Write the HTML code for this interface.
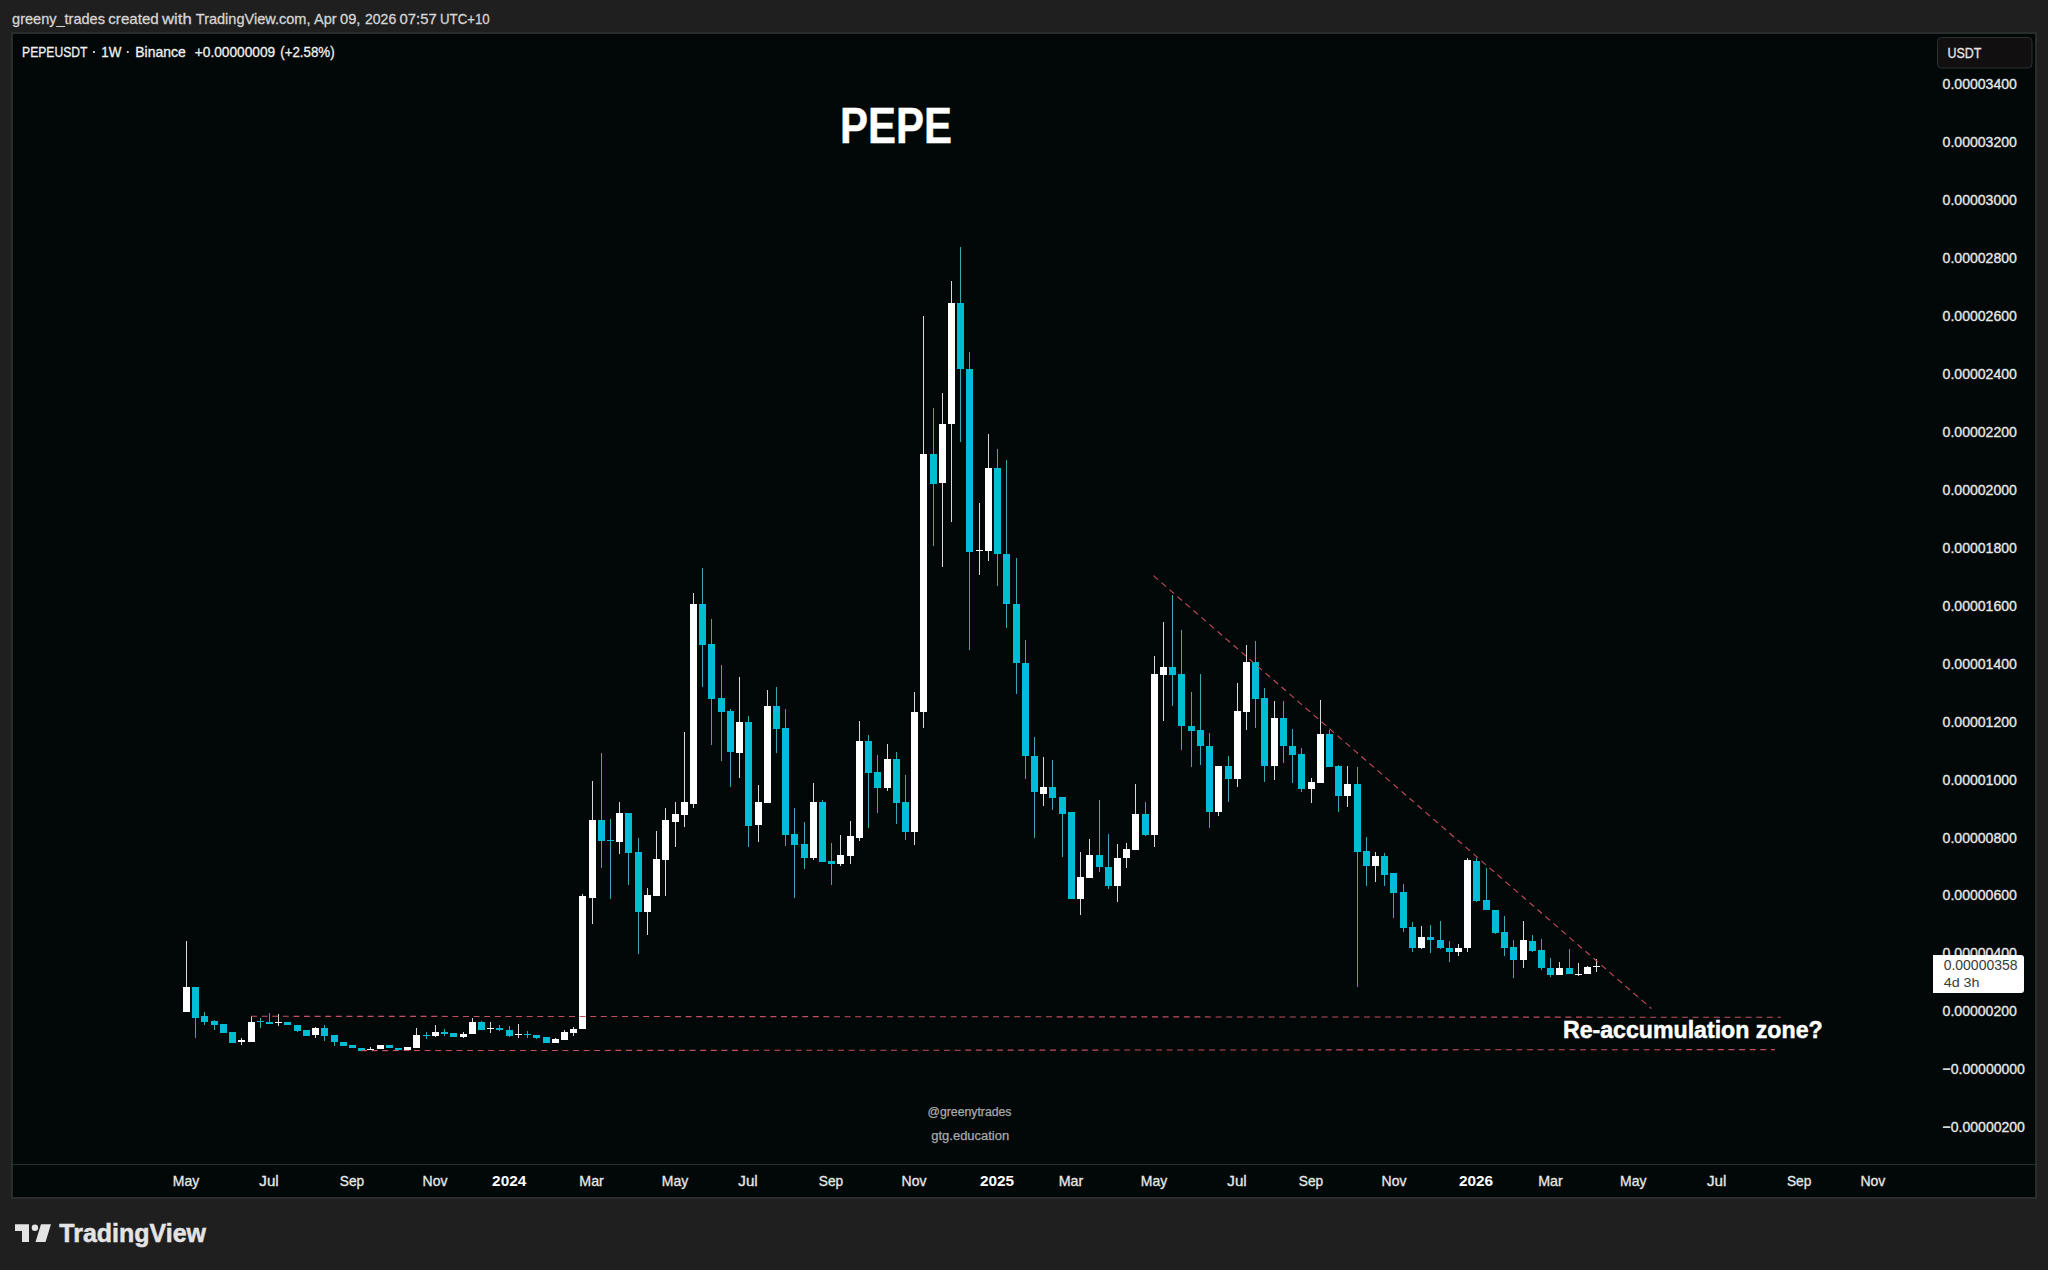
<!DOCTYPE html>
<html><head><meta charset="utf-8">
<style>
html,body{margin:0;padding:0;background:#201f1f;width:2048px;height:1270px;overflow:hidden}
svg{display:block}
text{font-family:"Liberation Sans",sans-serif}
</style></head>
<body>
<svg width="2048" height="1270" viewBox="0 0 2048 1270">
<rect x="0" y="0" width="2048" height="1270" fill="#201f1f"/>
<rect x="11" y="32" width="2026" height="1167" fill="#292d2c"/>
<rect x="13" y="34" width="2022" height="1163" fill="#020807"/>
<rect x="13" y="1164" width="2022" height="1" fill="#263030"/>
<text x="840.00" y="142.5" font-size="50" font-weight="bold" fill="#ffffff" stroke="#ffffff" stroke-width="0.4" textLength="112.00" lengthAdjust="spacingAndGlyphs">PEPE</text>
<rect x="1937.5" y="37.5" width="94.5" height="30.5" rx="4" fill="#110f0f" stroke="#2b3131" stroke-width="1"/>
<text x="1947.55" y="58" font-size="15" fill="#e6e6e6" stroke="#e6e6e6" stroke-width="0.3" textLength="33.90" lengthAdjust="spacingAndGlyphs">USDT</text>
<text x="12.05" y="23.75" font-size="14.5" fill="#d4d4d4" stroke="#d4d4d4" stroke-width="0.3" textLength="92.90" lengthAdjust="spacingAndGlyphs">greeny_trades</text><text x="108.30" y="23.75" font-size="14.5" fill="#d4d4d4" stroke="#d4d4d4" stroke-width="0.3" textLength="50.40" lengthAdjust="spacingAndGlyphs">created</text><text x="162.05" y="23.75" font-size="14.5" fill="#d4d4d4" stroke="#d4d4d4" stroke-width="0.3" textLength="29.65" lengthAdjust="spacingAndGlyphs">with</text><text x="195.80" y="23.75" font-size="14.5" fill="#d4d4d4" stroke="#d4d4d4" stroke-width="0.3" textLength="114.65" lengthAdjust="spacingAndGlyphs">TradingView.com,</text><text x="314.05" y="23.75" font-size="14.5" fill="#d4d4d4" stroke="#d4d4d4" stroke-width="0.3" textLength="22.65" lengthAdjust="spacingAndGlyphs">Apr</text><text x="340.05" y="23.75" font-size="14.5" fill="#d4d4d4" stroke="#d4d4d4" stroke-width="0.3" textLength="20.40" lengthAdjust="spacingAndGlyphs">09,</text><text x="365.05" y="23.75" font-size="14.5" fill="#d4d4d4" stroke="#d4d4d4" stroke-width="0.3" textLength="31.15" lengthAdjust="spacingAndGlyphs">2026</text><text x="399.55" y="23.75" font-size="14.5" fill="#d4d4d4" stroke="#d4d4d4" stroke-width="0.3" textLength="37.15" lengthAdjust="spacingAndGlyphs">07:57</text><text x="440.05" y="23.75" font-size="14.5" fill="#d4d4d4" stroke="#d4d4d4" stroke-width="0.3" textLength="49.65" lengthAdjust="spacingAndGlyphs">UTC+10</text><text x="22.05" y="56.8" font-size="15.2" fill="#f0f0f0" stroke="#f0f0f0" stroke-width="0.3" textLength="65.40" lengthAdjust="spacingAndGlyphs">PEPEUSDT</text><text x="101.35" y="56.8" font-size="15.2" fill="#f0f0f0" stroke="#f0f0f0" stroke-width="0.3" textLength="20.00" lengthAdjust="spacingAndGlyphs">1W</text><text x="135.25" y="56.8" font-size="15.2" fill="#f0f0f0" stroke="#f0f0f0" stroke-width="0.3" textLength="50.50" lengthAdjust="spacingAndGlyphs">Binance</text><text x="194.75" y="56.8" font-size="15.2" fill="#f0f0f0" stroke="#f0f0f0" stroke-width="0.3" textLength="80.50" lengthAdjust="spacingAndGlyphs">+0.00000009</text><text x="280.25" y="56.8" font-size="15.2" fill="#f0f0f0" stroke="#f0f0f0" stroke-width="0.3" textLength="54.40" lengthAdjust="spacingAndGlyphs">(+2.58%)</text><circle cx="94" cy="52" r="1.1" fill="#f0f0f0"/><circle cx="127.8" cy="52" r="1.1" fill="#f0f0f0"/><text x="1942.58" y="88.75" font-size="15" fill="#e8e8e8" stroke="#e8e8e8" stroke-width="0.35" textLength="74.35" lengthAdjust="spacingAndGlyphs">0.00003400</text><text x="1942.58" y="146.75" font-size="15" fill="#e8e8e8" stroke="#e8e8e8" stroke-width="0.35" textLength="74.35" lengthAdjust="spacingAndGlyphs">0.00003200</text><text x="1942.58" y="204.75" font-size="15" fill="#e8e8e8" stroke="#e8e8e8" stroke-width="0.35" textLength="74.35" lengthAdjust="spacingAndGlyphs">0.00003000</text><text x="1942.58" y="262.75" font-size="15" fill="#e8e8e8" stroke="#e8e8e8" stroke-width="0.35" textLength="74.35" lengthAdjust="spacingAndGlyphs">0.00002800</text><text x="1942.58" y="320.75" font-size="15" fill="#e8e8e8" stroke="#e8e8e8" stroke-width="0.35" textLength="74.35" lengthAdjust="spacingAndGlyphs">0.00002600</text><text x="1942.58" y="378.75" font-size="15" fill="#e8e8e8" stroke="#e8e8e8" stroke-width="0.35" textLength="74.35" lengthAdjust="spacingAndGlyphs">0.00002400</text><text x="1942.58" y="436.75" font-size="15" fill="#e8e8e8" stroke="#e8e8e8" stroke-width="0.35" textLength="74.35" lengthAdjust="spacingAndGlyphs">0.00002200</text><text x="1942.58" y="494.75" font-size="15" fill="#e8e8e8" stroke="#e8e8e8" stroke-width="0.35" textLength="74.35" lengthAdjust="spacingAndGlyphs">0.00002000</text><text x="1942.58" y="552.75" font-size="15" fill="#e8e8e8" stroke="#e8e8e8" stroke-width="0.35" textLength="74.35" lengthAdjust="spacingAndGlyphs">0.00001800</text><text x="1942.58" y="610.75" font-size="15" fill="#e8e8e8" stroke="#e8e8e8" stroke-width="0.35" textLength="74.35" lengthAdjust="spacingAndGlyphs">0.00001600</text><text x="1942.58" y="668.75" font-size="15" fill="#e8e8e8" stroke="#e8e8e8" stroke-width="0.35" textLength="74.35" lengthAdjust="spacingAndGlyphs">0.00001400</text><text x="1942.58" y="726.75" font-size="15" fill="#e8e8e8" stroke="#e8e8e8" stroke-width="0.35" textLength="74.35" lengthAdjust="spacingAndGlyphs">0.00001200</text><text x="1942.58" y="784.75" font-size="15" fill="#e8e8e8" stroke="#e8e8e8" stroke-width="0.35" textLength="74.35" lengthAdjust="spacingAndGlyphs">0.00001000</text><text x="1942.58" y="842.75" font-size="15" fill="#e8e8e8" stroke="#e8e8e8" stroke-width="0.35" textLength="74.35" lengthAdjust="spacingAndGlyphs">0.00000800</text><text x="1942.58" y="899.75" font-size="15" fill="#e8e8e8" stroke="#e8e8e8" stroke-width="0.35" textLength="74.35" lengthAdjust="spacingAndGlyphs">0.00000600</text><text x="1942.58" y="957.75" font-size="15" fill="#e8e8e8" stroke="#e8e8e8" stroke-width="0.35" textLength="74.35" lengthAdjust="spacingAndGlyphs">0.00000400</text><text x="1942.58" y="1015.75" font-size="15" fill="#e8e8e8" stroke="#e8e8e8" stroke-width="0.35" textLength="74.35" lengthAdjust="spacingAndGlyphs">0.00000200</text><text x="1942.58" y="1073.75" font-size="15" fill="#e8e8e8" stroke="#e8e8e8" stroke-width="0.35" textLength="82.35" lengthAdjust="spacingAndGlyphs">−0.00000000</text><text x="1942.58" y="1131.75" font-size="15" fill="#e8e8e8" stroke="#e8e8e8" stroke-width="0.35" textLength="82.35" lengthAdjust="spacingAndGlyphs">−0.00000200</text><text x="186.00" y="1186" font-size="14.5" fill="#e8e8e8" stroke="#e8e8e8" stroke-width="0.3" text-anchor="middle" textLength="26.40" lengthAdjust="spacingAndGlyphs">May</text><text x="269.00" y="1186" font-size="14.5" fill="#e8e8e8" stroke="#e8e8e8" stroke-width="0.3" text-anchor="middle" textLength="19.40" lengthAdjust="spacingAndGlyphs">Jul</text><text x="352.00" y="1186" font-size="14.5" fill="#e8e8e8" stroke="#e8e8e8" stroke-width="0.3" text-anchor="middle" textLength="24.40" lengthAdjust="spacingAndGlyphs">Sep</text><text x="435.00" y="1186" font-size="14.5" fill="#e8e8e8" stroke="#e8e8e8" stroke-width="0.3" text-anchor="middle" textLength="24.90" lengthAdjust="spacingAndGlyphs">Nov</text><text x="509.20" y="1186" font-size="14.5" font-weight="bold" fill="#ffffff" text-anchor="middle" textLength="34.20" lengthAdjust="spacingAndGlyphs">2024</text><text x="591.60" y="1186" font-size="14.5" fill="#e8e8e8" stroke="#e8e8e8" stroke-width="0.3" text-anchor="middle" textLength="24.50" lengthAdjust="spacingAndGlyphs">Mar</text><text x="675.00" y="1186" font-size="14.5" fill="#e8e8e8" stroke="#e8e8e8" stroke-width="0.3" text-anchor="middle" textLength="26.40" lengthAdjust="spacingAndGlyphs">May</text><text x="748.00" y="1186" font-size="14.5" fill="#e8e8e8" stroke="#e8e8e8" stroke-width="0.3" text-anchor="middle" textLength="19.40" lengthAdjust="spacingAndGlyphs">Jul</text><text x="831.00" y="1186" font-size="14.5" fill="#e8e8e8" stroke="#e8e8e8" stroke-width="0.3" text-anchor="middle" textLength="24.40" lengthAdjust="spacingAndGlyphs">Sep</text><text x="914.00" y="1186" font-size="14.5" fill="#e8e8e8" stroke="#e8e8e8" stroke-width="0.3" text-anchor="middle" textLength="24.90" lengthAdjust="spacingAndGlyphs">Nov</text><text x="997.00" y="1186" font-size="14.5" font-weight="bold" fill="#ffffff" text-anchor="middle" textLength="34.20" lengthAdjust="spacingAndGlyphs">2025</text><text x="1071.00" y="1186" font-size="14.5" fill="#e8e8e8" stroke="#e8e8e8" stroke-width="0.3" text-anchor="middle" textLength="24.50" lengthAdjust="spacingAndGlyphs">Mar</text><text x="1154.00" y="1186" font-size="14.5" fill="#e8e8e8" stroke="#e8e8e8" stroke-width="0.3" text-anchor="middle" textLength="26.40" lengthAdjust="spacingAndGlyphs">May</text><text x="1237.00" y="1186" font-size="14.5" fill="#e8e8e8" stroke="#e8e8e8" stroke-width="0.3" text-anchor="middle" textLength="19.40" lengthAdjust="spacingAndGlyphs">Jul</text><text x="1311.00" y="1186" font-size="14.5" fill="#e8e8e8" stroke="#e8e8e8" stroke-width="0.3" text-anchor="middle" textLength="24.40" lengthAdjust="spacingAndGlyphs">Sep</text><text x="1394.00" y="1186" font-size="14.5" fill="#e8e8e8" stroke="#e8e8e8" stroke-width="0.3" text-anchor="middle" textLength="24.90" lengthAdjust="spacingAndGlyphs">Nov</text><text x="1476.00" y="1186" font-size="14.5" font-weight="bold" fill="#ffffff" text-anchor="middle" textLength="34.20" lengthAdjust="spacingAndGlyphs">2026</text><text x="1550.40" y="1186" font-size="14.5" fill="#e8e8e8" stroke="#e8e8e8" stroke-width="0.3" text-anchor="middle" textLength="24.50" lengthAdjust="spacingAndGlyphs">Mar</text><text x="1633.25" y="1186" font-size="14.5" fill="#e8e8e8" stroke="#e8e8e8" stroke-width="0.3" text-anchor="middle" textLength="26.40" lengthAdjust="spacingAndGlyphs">May</text><text x="1716.60" y="1186" font-size="14.5" fill="#e8e8e8" stroke="#e8e8e8" stroke-width="0.3" text-anchor="middle" textLength="19.40" lengthAdjust="spacingAndGlyphs">Jul</text><text x="1799.10" y="1186" font-size="14.5" fill="#e8e8e8" stroke="#e8e8e8" stroke-width="0.3" text-anchor="middle" textLength="24.40" lengthAdjust="spacingAndGlyphs">Sep</text><text x="1872.90" y="1186" font-size="14.5" fill="#e8e8e8" stroke="#e8e8e8" stroke-width="0.3" text-anchor="middle" textLength="24.90" lengthAdjust="spacingAndGlyphs">Nov</text>
<g shape-rendering="crispEdges">
<rect x="186" y="941" width="1" height="46" fill="#d9d9d9"/><rect x="183" y="987" width="7" height="25" fill="#ffffff"/><rect x="195" y="1018" width="1" height="20" fill="#3aa6b4"/><rect x="192" y="987" width="7" height="31" fill="#00bcd4"/><rect x="204" y="1012" width="1" height="4" fill="#3aa6b4"/><rect x="204" y="1022" width="1" height="3" fill="#3aa6b4"/><rect x="201" y="1016" width="7" height="6" fill="#00bcd4"/><rect x="214" y="1020" width="1" height="1" fill="#3aa6b4"/><rect x="214" y="1025" width="1" height="5" fill="#3aa6b4"/><rect x="211" y="1021" width="7" height="4" fill="#00bcd4"/><rect x="220" y="1024" width="7" height="9" fill="#00bcd4"/><rect x="229" y="1032" width="7" height="11" fill="#00bcd4"/><rect x="241" y="1038" width="1" height="2" fill="#d9d9d9"/><rect x="241" y="1042" width="1" height="3" fill="#d9d9d9"/><rect x="238" y="1040" width="7" height="2" fill="#ffffff"/><rect x="251" y="1016" width="1" height="6" fill="#d9d9d9"/><rect x="248" y="1022" width="7" height="20" fill="#ffffff"/><rect x="260" y="1018" width="1" height="3" fill="#3aa6b4"/><rect x="260" y="1022" width="1" height="6" fill="#3aa6b4"/><rect x="257" y="1021" width="7" height="1" fill="#00bcd4"/><rect x="269" y="1013" width="1" height="9" fill="#3aa6b4"/><rect x="266" y="1022" width="7" height="2" fill="#00bcd4"/><rect x="278" y="1014" width="1" height="8" fill="#d9d9d9"/><rect x="278" y="1023" width="1" height="3" fill="#d9d9d9"/><rect x="275" y="1022" width="7" height="1" fill="#ffffff"/><rect x="284" y="1022" width="7" height="3" fill="#00bcd4"/><rect x="297" y="1031" width="1" height="1" fill="#3aa6b4"/><rect x="294" y="1025" width="7" height="6" fill="#00bcd4"/><rect x="303" y="1030" width="7" height="6" fill="#00bcd4"/><rect x="315" y="1027" width="1" height="1" fill="#d9d9d9"/><rect x="315" y="1035" width="1" height="3" fill="#d9d9d9"/><rect x="312" y="1028" width="7" height="7" fill="#ffffff"/><rect x="324" y="1025" width="1" height="3" fill="#3aa6b4"/><rect x="324" y="1036" width="1" height="5" fill="#3aa6b4"/><rect x="321" y="1028" width="7" height="8" fill="#00bcd4"/><rect x="334" y="1042" width="1" height="4" fill="#3aa6b4"/><rect x="331" y="1035" width="7" height="7" fill="#00bcd4"/><rect x="340" y="1042" width="7" height="4" fill="#00bcd4"/><rect x="349" y="1045" width="7" height="3" fill="#00bcd4"/><rect x="358" y="1048" width="7" height="3" fill="#00bcd4"/><rect x="370" y="1047" width="1" height="2" fill="#d9d9d9"/><rect x="367" y="1049" width="7" height="1" fill="#ffffff"/><rect x="377" y="1045" width="7" height="4" fill="#ffffff"/><rect x="386" y="1045" width="7" height="3" fill="#00bcd4"/><rect x="395" y="1048" width="7" height="2" fill="#00bcd4"/><rect x="404" y="1047" width="7" height="3" fill="#ffffff"/><rect x="416" y="1028" width="1" height="7" fill="#d9d9d9"/><rect x="413" y="1035" width="7" height="13" fill="#ffffff"/><rect x="426" y="1032" width="1" height="3" fill="#3aa6b4"/><rect x="426" y="1036" width="1" height="3" fill="#3aa6b4"/><rect x="423" y="1035" width="7" height="1" fill="#00bcd4"/><rect x="435" y="1025" width="1" height="7" fill="#d9d9d9"/><rect x="435" y="1036" width="1" height="1" fill="#d9d9d9"/><rect x="432" y="1032" width="7" height="4" fill="#ffffff"/><rect x="444" y="1029" width="1" height="3" fill="#3aa6b4"/><rect x="444" y="1034" width="1" height="2" fill="#3aa6b4"/><rect x="441" y="1032" width="7" height="2" fill="#00bcd4"/><rect x="450" y="1033" width="7" height="4" fill="#00bcd4"/><rect x="463" y="1032" width="1" height="2" fill="#d9d9d9"/><rect x="463" y="1037" width="1" height="1" fill="#d9d9d9"/><rect x="460" y="1034" width="7" height="3" fill="#ffffff"/><rect x="472" y="1018" width="1" height="4" fill="#d9d9d9"/><rect x="469" y="1022" width="7" height="12" fill="#ffffff"/><rect x="481" y="1021" width="1" height="1" fill="#3aa6b4"/><rect x="478" y="1022" width="7" height="8" fill="#00bcd4"/><rect x="490" y="1022" width="1" height="6" fill="#d9d9d9"/><rect x="490" y="1029" width="1" height="4" fill="#d9d9d9"/><rect x="487" y="1028" width="7" height="1" fill="#ffffff"/><rect x="499" y="1025" width="1" height="3" fill="#3aa6b4"/><rect x="499" y="1030" width="1" height="1" fill="#3aa6b4"/><rect x="496" y="1028" width="7" height="2" fill="#00bcd4"/><rect x="509" y="1026" width="1" height="4" fill="#3aa6b4"/><rect x="509" y="1036" width="1" height="1" fill="#3aa6b4"/><rect x="506" y="1030" width="7" height="6" fill="#00bcd4"/><rect x="518" y="1024" width="1" height="10" fill="#d9d9d9"/><rect x="518" y="1035" width="1" height="3" fill="#d9d9d9"/><rect x="515" y="1034" width="7" height="1" fill="#ffffff"/><rect x="527" y="1031" width="1" height="3" fill="#3aa6b4"/><rect x="527" y="1035" width="1" height="3" fill="#3aa6b4"/><rect x="524" y="1034" width="7" height="1" fill="#00bcd4"/><rect x="536" y="1038" width="1" height="1" fill="#3aa6b4"/><rect x="533" y="1035" width="7" height="3" fill="#00bcd4"/><rect x="543" y="1037" width="7" height="6" fill="#00bcd4"/><rect x="555" y="1038" width="1" height="1" fill="#d9d9d9"/><rect x="552" y="1039" width="7" height="4" fill="#ffffff"/><rect x="564" y="1030" width="1" height="2" fill="#d9d9d9"/><rect x="561" y="1032" width="7" height="8" fill="#ffffff"/><rect x="573" y="1027" width="1" height="2" fill="#d9d9d9"/><rect x="573" y="1033" width="1" height="3" fill="#d9d9d9"/><rect x="570" y="1029" width="7" height="4" fill="#ffffff"/><rect x="582" y="894" width="1" height="2" fill="#d9d9d9"/><rect x="579" y="896" width="7" height="133" fill="#ffffff"/><rect x="592" y="781" width="1" height="39" fill="#d9d9d9"/><rect x="592" y="898" width="1" height="26" fill="#d9d9d9"/><rect x="589" y="820" width="7" height="78" fill="#ffffff"/><rect x="601" y="753" width="1" height="67" fill="#3aa6b4"/><rect x="601" y="841" width="1" height="27" fill="#3aa6b4"/><rect x="598" y="820" width="7" height="21" fill="#00bcd4"/><rect x="610" y="819" width="1" height="21" fill="#3aa6b4"/><rect x="610" y="841" width="1" height="58" fill="#3aa6b4"/><rect x="607" y="840" width="7" height="1" fill="#00bcd4"/><rect x="619" y="802" width="1" height="11" fill="#d9d9d9"/><rect x="619" y="842" width="1" height="12" fill="#d9d9d9"/><rect x="616" y="813" width="7" height="29" fill="#ffffff"/><rect x="628" y="853" width="1" height="32" fill="#3aa6b4"/><rect x="625" y="813" width="7" height="40" fill="#00bcd4"/><rect x="638" y="838" width="1" height="14" fill="#3aa6b4"/><rect x="638" y="912" width="1" height="42" fill="#3aa6b4"/><rect x="635" y="852" width="7" height="60" fill="#00bcd4"/><rect x="647" y="888" width="1" height="7" fill="#d9d9d9"/><rect x="647" y="912" width="1" height="23" fill="#d9d9d9"/><rect x="644" y="895" width="7" height="17" fill="#ffffff"/><rect x="656" y="831" width="1" height="28" fill="#d9d9d9"/><rect x="653" y="859" width="7" height="37" fill="#ffffff"/><rect x="665" y="808" width="1" height="12" fill="#d9d9d9"/><rect x="665" y="860" width="1" height="36" fill="#d9d9d9"/><rect x="662" y="820" width="7" height="40" fill="#ffffff"/><rect x="675" y="802" width="1" height="12" fill="#d9d9d9"/><rect x="675" y="822" width="1" height="25" fill="#d9d9d9"/><rect x="672" y="814" width="7" height="8" fill="#ffffff"/><rect x="684" y="732" width="1" height="70" fill="#d9d9d9"/><rect x="684" y="815" width="1" height="12" fill="#d9d9d9"/><rect x="681" y="802" width="7" height="13" fill="#ffffff"/><rect x="693" y="593" width="1" height="11" fill="#d9d9d9"/><rect x="693" y="804" width="1" height="4" fill="#d9d9d9"/><rect x="690" y="604" width="7" height="200" fill="#ffffff"/><rect x="702" y="568" width="1" height="36" fill="#3aa6b4"/><rect x="702" y="645" width="1" height="42" fill="#3aa6b4"/><rect x="699" y="604" width="7" height="41" fill="#00bcd4"/><rect x="711" y="619" width="1" height="25" fill="#3aa6b4"/><rect x="711" y="699" width="1" height="46" fill="#3aa6b4"/><rect x="708" y="644" width="7" height="55" fill="#00bcd4"/><rect x="721" y="665" width="1" height="33" fill="#3aa6b4"/><rect x="721" y="712" width="1" height="49" fill="#3aa6b4"/><rect x="718" y="698" width="7" height="14" fill="#00bcd4"/><rect x="730" y="709" width="1" height="2" fill="#3aa6b4"/><rect x="730" y="752" width="1" height="35" fill="#3aa6b4"/><rect x="727" y="711" width="7" height="41" fill="#00bcd4"/><rect x="739" y="677" width="1" height="45" fill="#d9d9d9"/><rect x="739" y="753" width="1" height="25" fill="#d9d9d9"/><rect x="736" y="722" width="7" height="31" fill="#ffffff"/><rect x="748" y="716" width="1" height="6" fill="#3aa6b4"/><rect x="748" y="826" width="1" height="21" fill="#3aa6b4"/><rect x="745" y="722" width="7" height="104" fill="#00bcd4"/><rect x="758" y="785" width="1" height="17" fill="#d9d9d9"/><rect x="758" y="825" width="1" height="17" fill="#d9d9d9"/><rect x="755" y="802" width="7" height="23" fill="#ffffff"/><rect x="767" y="690" width="1" height="16" fill="#d9d9d9"/><rect x="764" y="706" width="7" height="97" fill="#ffffff"/><rect x="776" y="687" width="1" height="19" fill="#3aa6b4"/><rect x="776" y="729" width="1" height="24" fill="#3aa6b4"/><rect x="773" y="706" width="7" height="23" fill="#00bcd4"/><rect x="785" y="709" width="1" height="19" fill="#3aa6b4"/><rect x="785" y="835" width="1" height="11" fill="#3aa6b4"/><rect x="782" y="728" width="7" height="107" fill="#00bcd4"/><rect x="794" y="808" width="1" height="26" fill="#3aa6b4"/><rect x="794" y="845" width="1" height="53" fill="#3aa6b4"/><rect x="791" y="834" width="7" height="11" fill="#00bcd4"/><rect x="804" y="822" width="1" height="22" fill="#3aa6b4"/><rect x="804" y="858" width="1" height="11" fill="#3aa6b4"/><rect x="801" y="844" width="7" height="14" fill="#00bcd4"/><rect x="813" y="783" width="1" height="19" fill="#d9d9d9"/><rect x="813" y="858" width="1" height="2" fill="#d9d9d9"/><rect x="810" y="802" width="7" height="56" fill="#ffffff"/><rect x="822" y="800" width="1" height="2" fill="#3aa6b4"/><rect x="819" y="802" width="7" height="60" fill="#00bcd4"/><rect x="831" y="843" width="1" height="18" fill="#3aa6b4"/><rect x="831" y="864" width="1" height="21" fill="#3aa6b4"/><rect x="828" y="861" width="7" height="3" fill="#00bcd4"/><rect x="840" y="835" width="1" height="20" fill="#d9d9d9"/><rect x="840" y="864" width="1" height="2" fill="#d9d9d9"/><rect x="837" y="855" width="7" height="9" fill="#ffffff"/><rect x="850" y="821" width="1" height="15" fill="#d9d9d9"/><rect x="850" y="856" width="1" height="8" fill="#d9d9d9"/><rect x="847" y="836" width="7" height="20" fill="#ffffff"/><rect x="859" y="721" width="1" height="20" fill="#d9d9d9"/><rect x="859" y="838" width="1" height="3" fill="#d9d9d9"/><rect x="856" y="741" width="7" height="97" fill="#ffffff"/><rect x="868" y="735" width="1" height="6" fill="#3aa6b4"/><rect x="868" y="773" width="1" height="55" fill="#3aa6b4"/><rect x="865" y="741" width="7" height="32" fill="#00bcd4"/><rect x="877" y="755" width="1" height="17" fill="#3aa6b4"/><rect x="877" y="788" width="1" height="25" fill="#3aa6b4"/><rect x="874" y="772" width="7" height="16" fill="#00bcd4"/><rect x="887" y="744" width="1" height="15" fill="#d9d9d9"/><rect x="887" y="788" width="1" height="3" fill="#d9d9d9"/><rect x="884" y="759" width="7" height="29" fill="#ffffff"/><rect x="896" y="752" width="1" height="7" fill="#3aa6b4"/><rect x="896" y="803" width="1" height="21" fill="#3aa6b4"/><rect x="893" y="759" width="7" height="44" fill="#00bcd4"/><rect x="905" y="775" width="1" height="27" fill="#3aa6b4"/><rect x="905" y="832" width="1" height="8" fill="#3aa6b4"/><rect x="902" y="802" width="7" height="30" fill="#00bcd4"/><rect x="914" y="692" width="1" height="20" fill="#d9d9d9"/><rect x="914" y="832" width="1" height="13" fill="#d9d9d9"/><rect x="911" y="712" width="7" height="120" fill="#ffffff"/><rect x="923" y="316" width="1" height="138" fill="#d9d9d9"/><rect x="923" y="712" width="1" height="16" fill="#d9d9d9"/><rect x="920" y="454" width="7" height="258" fill="#ffffff"/><rect x="933" y="408" width="1" height="46" fill="#3aa6b4"/><rect x="933" y="484" width="1" height="62" fill="#3aa6b4"/><rect x="930" y="454" width="7" height="30" fill="#00bcd4"/><rect x="942" y="393" width="1" height="31" fill="#d9d9d9"/><rect x="942" y="483" width="1" height="84" fill="#d9d9d9"/><rect x="939" y="424" width="7" height="59" fill="#ffffff"/><rect x="951" y="281" width="1" height="22" fill="#d9d9d9"/><rect x="951" y="424" width="1" height="98" fill="#d9d9d9"/><rect x="948" y="303" width="7" height="121" fill="#ffffff"/><rect x="960" y="247" width="1" height="56" fill="#3aa6b4"/><rect x="960" y="369" width="1" height="73" fill="#3aa6b4"/><rect x="957" y="303" width="7" height="66" fill="#00bcd4"/><rect x="969" y="352" width="1" height="17" fill="#3aa6b4"/><rect x="969" y="552" width="1" height="98" fill="#3aa6b4"/><rect x="966" y="369" width="7" height="183" fill="#00bcd4"/><rect x="979" y="503" width="1" height="47" fill="#d9d9d9"/><rect x="979" y="551" width="1" height="24" fill="#d9d9d9"/><rect x="976" y="550" width="7" height="1" fill="#ffffff"/><rect x="988" y="434" width="1" height="34" fill="#d9d9d9"/><rect x="988" y="551" width="1" height="10" fill="#d9d9d9"/><rect x="985" y="468" width="7" height="83" fill="#ffffff"/><rect x="997" y="449" width="1" height="19" fill="#3aa6b4"/><rect x="997" y="554" width="1" height="32" fill="#3aa6b4"/><rect x="994" y="468" width="7" height="86" fill="#00bcd4"/><rect x="1006" y="460" width="1" height="94" fill="#3aa6b4"/><rect x="1006" y="604" width="1" height="24" fill="#3aa6b4"/><rect x="1003" y="554" width="7" height="50" fill="#00bcd4"/><rect x="1016" y="558" width="1" height="46" fill="#3aa6b4"/><rect x="1016" y="663" width="1" height="31" fill="#3aa6b4"/><rect x="1013" y="604" width="7" height="59" fill="#00bcd4"/><rect x="1025" y="640" width="1" height="23" fill="#3aa6b4"/><rect x="1025" y="756" width="1" height="23" fill="#3aa6b4"/><rect x="1022" y="663" width="7" height="93" fill="#00bcd4"/><rect x="1034" y="737" width="1" height="19" fill="#3aa6b4"/><rect x="1034" y="792" width="1" height="46" fill="#3aa6b4"/><rect x="1031" y="756" width="7" height="36" fill="#00bcd4"/><rect x="1043" y="757" width="1" height="30" fill="#d9d9d9"/><rect x="1043" y="794" width="1" height="12" fill="#d9d9d9"/><rect x="1040" y="787" width="7" height="7" fill="#ffffff"/><rect x="1052" y="760" width="1" height="27" fill="#3aa6b4"/><rect x="1052" y="798" width="1" height="12" fill="#3aa6b4"/><rect x="1049" y="787" width="7" height="11" fill="#00bcd4"/><rect x="1062" y="814" width="1" height="43" fill="#3aa6b4"/><rect x="1059" y="797" width="7" height="17" fill="#00bcd4"/><rect x="1068" y="812" width="7" height="87" fill="#00bcd4"/><rect x="1080" y="852" width="1" height="25" fill="#d9d9d9"/><rect x="1080" y="899" width="1" height="16" fill="#d9d9d9"/><rect x="1077" y="877" width="7" height="22" fill="#ffffff"/><rect x="1089" y="839" width="1" height="16" fill="#d9d9d9"/><rect x="1086" y="855" width="7" height="23" fill="#ffffff"/><rect x="1099" y="800" width="1" height="55" fill="#3aa6b4"/><rect x="1099" y="867" width="1" height="5" fill="#3aa6b4"/><rect x="1096" y="855" width="7" height="12" fill="#00bcd4"/><rect x="1108" y="834" width="1" height="33" fill="#3aa6b4"/><rect x="1108" y="886" width="1" height="3" fill="#3aa6b4"/><rect x="1105" y="867" width="7" height="19" fill="#00bcd4"/><rect x="1117" y="844" width="1" height="14" fill="#d9d9d9"/><rect x="1117" y="886" width="1" height="16" fill="#d9d9d9"/><rect x="1114" y="858" width="7" height="28" fill="#ffffff"/><rect x="1126" y="843" width="1" height="6" fill="#d9d9d9"/><rect x="1126" y="858" width="1" height="10" fill="#d9d9d9"/><rect x="1123" y="849" width="7" height="9" fill="#ffffff"/><rect x="1135" y="784" width="1" height="30" fill="#d9d9d9"/><rect x="1132" y="814" width="7" height="36" fill="#ffffff"/><rect x="1145" y="802" width="1" height="12" fill="#3aa6b4"/><rect x="1145" y="835" width="1" height="1" fill="#3aa6b4"/><rect x="1142" y="814" width="7" height="21" fill="#00bcd4"/><rect x="1154" y="656" width="1" height="18" fill="#d9d9d9"/><rect x="1154" y="835" width="1" height="12" fill="#d9d9d9"/><rect x="1151" y="674" width="7" height="161" fill="#ffffff"/><rect x="1163" y="622" width="1" height="45" fill="#d9d9d9"/><rect x="1163" y="675" width="1" height="46" fill="#d9d9d9"/><rect x="1160" y="667" width="7" height="8" fill="#ffffff"/><rect x="1172" y="595" width="1" height="72" fill="#3aa6b4"/><rect x="1172" y="675" width="1" height="31" fill="#3aa6b4"/><rect x="1169" y="667" width="7" height="8" fill="#00bcd4"/><rect x="1181" y="630" width="1" height="44" fill="#3aa6b4"/><rect x="1181" y="726" width="1" height="24" fill="#3aa6b4"/><rect x="1178" y="674" width="7" height="52" fill="#00bcd4"/><rect x="1191" y="692" width="1" height="34" fill="#3aa6b4"/><rect x="1191" y="731" width="1" height="36" fill="#3aa6b4"/><rect x="1188" y="726" width="7" height="5" fill="#00bcd4"/><rect x="1200" y="674" width="1" height="56" fill="#3aa6b4"/><rect x="1200" y="746" width="1" height="19" fill="#3aa6b4"/><rect x="1197" y="730" width="7" height="16" fill="#00bcd4"/><rect x="1209" y="733" width="1" height="13" fill="#3aa6b4"/><rect x="1209" y="812" width="1" height="16" fill="#3aa6b4"/><rect x="1206" y="746" width="7" height="66" fill="#00bcd4"/><rect x="1218" y="812" width="1" height="4" fill="#d9d9d9"/><rect x="1215" y="766" width="7" height="46" fill="#ffffff"/><rect x="1228" y="756" width="1" height="10" fill="#3aa6b4"/><rect x="1228" y="779" width="1" height="23" fill="#3aa6b4"/><rect x="1225" y="766" width="7" height="13" fill="#00bcd4"/><rect x="1237" y="683" width="1" height="28" fill="#d9d9d9"/><rect x="1237" y="779" width="1" height="8" fill="#d9d9d9"/><rect x="1234" y="711" width="7" height="68" fill="#ffffff"/><rect x="1246" y="645" width="1" height="17" fill="#d9d9d9"/><rect x="1246" y="712" width="1" height="18" fill="#d9d9d9"/><rect x="1243" y="662" width="7" height="50" fill="#ffffff"/><rect x="1255" y="641" width="1" height="21" fill="#3aa6b4"/><rect x="1255" y="699" width="1" height="29" fill="#3aa6b4"/><rect x="1252" y="662" width="7" height="37" fill="#00bcd4"/><rect x="1264" y="688" width="1" height="10" fill="#3aa6b4"/><rect x="1264" y="766" width="1" height="16" fill="#3aa6b4"/><rect x="1261" y="698" width="7" height="68" fill="#00bcd4"/><rect x="1274" y="701" width="1" height="17" fill="#d9d9d9"/><rect x="1274" y="766" width="1" height="14" fill="#d9d9d9"/><rect x="1271" y="718" width="7" height="48" fill="#ffffff"/><rect x="1283" y="701" width="1" height="17" fill="#3aa6b4"/><rect x="1283" y="746" width="1" height="17" fill="#3aa6b4"/><rect x="1280" y="718" width="7" height="28" fill="#00bcd4"/><rect x="1292" y="729" width="1" height="17" fill="#3aa6b4"/><rect x="1292" y="755" width="1" height="28" fill="#3aa6b4"/><rect x="1289" y="746" width="7" height="9" fill="#00bcd4"/><rect x="1301" y="748" width="1" height="6" fill="#3aa6b4"/><rect x="1301" y="789" width="1" height="3" fill="#3aa6b4"/><rect x="1298" y="754" width="7" height="35" fill="#00bcd4"/><rect x="1311" y="778" width="1" height="4" fill="#d9d9d9"/><rect x="1311" y="789" width="1" height="14" fill="#d9d9d9"/><rect x="1308" y="782" width="7" height="7" fill="#ffffff"/><rect x="1320" y="700" width="1" height="34" fill="#d9d9d9"/><rect x="1317" y="734" width="7" height="49" fill="#ffffff"/><rect x="1329" y="730" width="1" height="4" fill="#3aa6b4"/><rect x="1326" y="734" width="7" height="33" fill="#00bcd4"/><rect x="1338" y="765" width="1" height="1" fill="#3aa6b4"/><rect x="1338" y="796" width="1" height="16" fill="#3aa6b4"/><rect x="1335" y="766" width="7" height="30" fill="#00bcd4"/><rect x="1347" y="766" width="1" height="18" fill="#d9d9d9"/><rect x="1347" y="796" width="1" height="11" fill="#d9d9d9"/><rect x="1344" y="784" width="7" height="12" fill="#ffffff"/><rect x="1357" y="767" width="1" height="17" fill="#3aa6b4"/><rect x="1357" y="852" width="1" height="135" fill="#3aa6b4"/><rect x="1354" y="784" width="7" height="68" fill="#00bcd4"/><rect x="1366" y="837" width="1" height="14" fill="#3aa6b4"/><rect x="1366" y="866" width="1" height="20" fill="#3aa6b4"/><rect x="1363" y="851" width="7" height="15" fill="#00bcd4"/><rect x="1375" y="852" width="1" height="4" fill="#d9d9d9"/><rect x="1375" y="866" width="1" height="16" fill="#d9d9d9"/><rect x="1372" y="856" width="7" height="10" fill="#ffffff"/><rect x="1384" y="853" width="1" height="3" fill="#3aa6b4"/><rect x="1384" y="875" width="1" height="11" fill="#3aa6b4"/><rect x="1381" y="856" width="7" height="19" fill="#00bcd4"/><rect x="1393" y="893" width="1" height="25" fill="#3aa6b4"/><rect x="1390" y="873" width="7" height="20" fill="#00bcd4"/><rect x="1403" y="884" width="1" height="8" fill="#3aa6b4"/><rect x="1403" y="928" width="1" height="4" fill="#3aa6b4"/><rect x="1400" y="892" width="7" height="36" fill="#00bcd4"/><rect x="1412" y="922" width="1" height="5" fill="#3aa6b4"/><rect x="1412" y="948" width="1" height="4" fill="#3aa6b4"/><rect x="1409" y="927" width="7" height="21" fill="#00bcd4"/><rect x="1421" y="926" width="1" height="11" fill="#d9d9d9"/><rect x="1421" y="948" width="1" height="1" fill="#d9d9d9"/><rect x="1418" y="937" width="7" height="11" fill="#ffffff"/><rect x="1430" y="925" width="1" height="12" fill="#3aa6b4"/><rect x="1430" y="940" width="1" height="13" fill="#3aa6b4"/><rect x="1427" y="937" width="7" height="3" fill="#00bcd4"/><rect x="1440" y="921" width="1" height="19" fill="#3aa6b4"/><rect x="1440" y="948" width="1" height="1" fill="#3aa6b4"/><rect x="1437" y="940" width="7" height="8" fill="#00bcd4"/><rect x="1449" y="941" width="1" height="7" fill="#3aa6b4"/><rect x="1449" y="952" width="1" height="10" fill="#3aa6b4"/><rect x="1446" y="948" width="7" height="4" fill="#00bcd4"/><rect x="1458" y="944" width="1" height="4" fill="#d9d9d9"/><rect x="1458" y="952" width="1" height="4" fill="#d9d9d9"/><rect x="1455" y="948" width="7" height="4" fill="#ffffff"/><rect x="1467" y="858" width="1" height="2" fill="#d9d9d9"/><rect x="1467" y="948" width="1" height="4" fill="#d9d9d9"/><rect x="1464" y="860" width="7" height="88" fill="#ffffff"/><rect x="1476" y="858" width="1" height="3" fill="#3aa6b4"/><rect x="1476" y="901" width="1" height="1" fill="#3aa6b4"/><rect x="1473" y="861" width="7" height="40" fill="#00bcd4"/><rect x="1486" y="868" width="1" height="32" fill="#3aa6b4"/><rect x="1483" y="900" width="7" height="10" fill="#00bcd4"/><rect x="1495" y="933" width="1" height="1" fill="#3aa6b4"/><rect x="1492" y="910" width="7" height="23" fill="#00bcd4"/><rect x="1504" y="916" width="1" height="16" fill="#3aa6b4"/><rect x="1504" y="948" width="1" height="8" fill="#3aa6b4"/><rect x="1501" y="932" width="7" height="16" fill="#00bcd4"/><rect x="1513" y="940" width="1" height="7" fill="#3aa6b4"/><rect x="1513" y="960" width="1" height="18" fill="#3aa6b4"/><rect x="1510" y="947" width="7" height="13" fill="#00bcd4"/><rect x="1523" y="921" width="1" height="19" fill="#d9d9d9"/><rect x="1523" y="960" width="1" height="8" fill="#d9d9d9"/><rect x="1520" y="940" width="7" height="20" fill="#ffffff"/><rect x="1532" y="935" width="1" height="6" fill="#3aa6b4"/><rect x="1532" y="951" width="1" height="1" fill="#3aa6b4"/><rect x="1529" y="941" width="7" height="10" fill="#00bcd4"/><rect x="1541" y="939" width="1" height="11" fill="#3aa6b4"/><rect x="1541" y="968" width="1" height="2" fill="#3aa6b4"/><rect x="1538" y="950" width="7" height="18" fill="#00bcd4"/><rect x="1550" y="958" width="1" height="10" fill="#3aa6b4"/><rect x="1550" y="975" width="1" height="2" fill="#3aa6b4"/><rect x="1547" y="968" width="7" height="7" fill="#00bcd4"/><rect x="1559" y="962" width="1" height="6" fill="#d9d9d9"/><rect x="1556" y="968" width="7" height="7" fill="#ffffff"/><rect x="1569" y="949" width="1" height="19" fill="#3aa6b4"/><rect x="1566" y="968" width="7" height="6" fill="#00bcd4"/><rect x="1578" y="963" width="1" height="11" fill="#d9d9d9"/><rect x="1578" y="975" width="1" height="1" fill="#d9d9d9"/><rect x="1575" y="974" width="7" height="1" fill="#ffffff"/><rect x="1587" y="966" width="1" height="1" fill="#d9d9d9"/><rect x="1584" y="967" width="7" height="7" fill="#ffffff"/><rect x="1596" y="959" width="1" height="7" fill="#d9d9d9"/><rect x="1596" y="967" width="1" height="5" fill="#d9d9d9"/><rect x="1593" y="966" width="7" height="1" fill="#ffffff"/>
</g>
<g fill="none" stroke="#c24f60" stroke-width="1.1" stroke-dasharray="6 4.6">
<line x1="251" y1="1016.3" x2="1781" y2="1017.3"/>
<line x1="361" y1="1050.6" x2="1775" y2="1049.6"/>
<line x1="1153.5" y1="575.7" x2="1651.4" y2="1008.6"/>
</g>
<text x="1562.95" y="1037.5" font-size="23.8" font-weight="bold" fill="#ffffff" stroke="#ffffff" stroke-width="0.5" textLength="259.70" lengthAdjust="spacingAndGlyphs">Re-accumulation zone?</text>
<text x="927.52" y="1115.5" font-size="12" fill="#a9a9a9" stroke="#a9a9a9" stroke-width="0.25" textLength="83.95" lengthAdjust="spacingAndGlyphs">@greenytrades</text>
<text x="931.32" y="1139.8" font-size="12.5" fill="#a9a9a9" stroke="#a9a9a9" stroke-width="0.25" textLength="77.85" lengthAdjust="spacingAndGlyphs">gtg.education</text>
<path d="M1933 955H2021A3 3 0 0 1 2024 958V990A3 3 0 0 1 2021 993H1933Z" fill="#ffffff"/>
<text x="1943.70" y="970.4" font-size="14.2" fill="#3b3b3b" textLength="73.80" lengthAdjust="spacingAndGlyphs">0.00000358</text>
<text x="1943.70" y="987.4" font-size="13.6" fill="#3b3b3b" textLength="35.90" lengthAdjust="spacingAndGlyphs">4d 3h</text>
<g fill="#e4e4e4">
<path d="M15 1224.3H29V1242H22V1231.1H15Z"/>
<circle cx="34.9" cy="1227.7" r="3.2"/>
<path d="M41 1224.3H51L45.5 1242H35.5Z"/>
</g>
<text x="59.35" y="1242" font-size="25.4" font-weight="bold" fill="#e4e4e4" stroke="#e4e4e4" stroke-width="0.5" textLength="146.60" lengthAdjust="spacingAndGlyphs">TradingView</text>
</svg>
</body></html>
